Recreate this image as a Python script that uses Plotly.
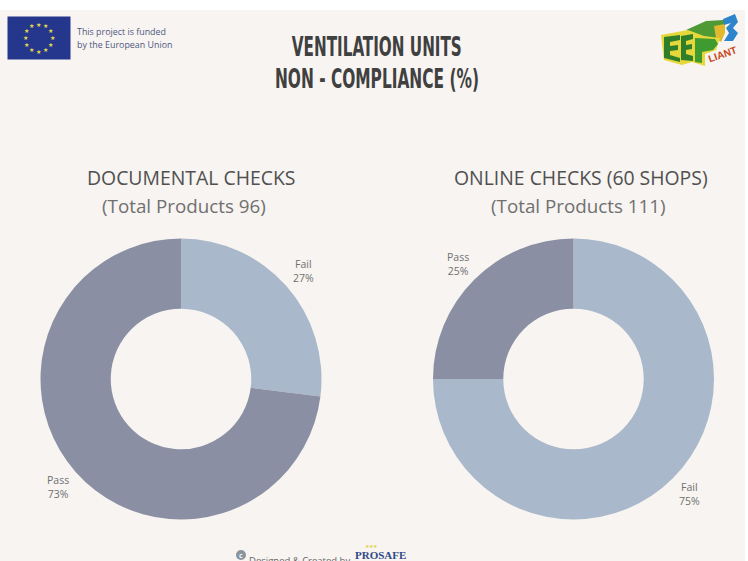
import plotly.graph_objects as go
import math

W, H = 748, 561
labels = ["Fail", "Pass"]
doc_values = [27, 73]
online_values = [75, 25]
colors = ["#a9b8cb", "#8a8fa3"]
titles = ["DOCUMENTAL CHECKS", "ONLINE CHECKS (60 SHOPS)"]
subtitles = ["(Total Products 96)", "(Total Products 111)"]
main_title = ["VENTILATION UNITS", "NON - COMPLIANCE (%)"]

def px(x): return x / W
def py(y): return 1 - y / H

def dom(cx, cy, r):
    return dict(x=[px(cx - r), px(cx + r)], y=[py(cy + r), py(cy - r)])

fig = go.Figure()
R = 140.5
for vals, cx, name in [(doc_values, 181, "Documental"), (online_values, 573.5, "Online")]:
    fig.add_trace(go.Pie(labels=labels, values=vals, name=name, hole=0.5, sort=False,
                         direction="clockwise", rotation=0, textinfo="none",
                         marker=dict(colors=colors, line=dict(width=0)),
                         domain=dom(cx, 379, R), showlegend=False, hoverinfo="label+percent"))

ann = []
def T(x, y, text, size, color, font="Open Sans", anchor="center", weight=None, **kw):
    f = dict(family=font, size=size, color=color)
    if weight:
        f["weight"] = weight
    ann.append(dict(x=px(x), y=py(y), xref="paper", yref="paper", text=text, showarrow=False,
                    xanchor=anchor, yanchor="middle", align=kw.pop("align", "center"),
                    font=f, **kw))

TITLE_FONT = "DejaVu Sans Condensed"
T(377, 47, main_title[0], 26, "#404040", TITLE_FONT, weight=700)
T(377, 79, main_title[1], 26, "#404040", TITLE_FONT, weight=700)
T(190.5, 178, titles[0], 19.4, "#505050")
T(581, 178, titles[1], 19.4, "#505050")
T(183.5, 205.5, subtitles[0], 18.8, "#707070")
T(578.5, 205.5, subtitles[1], 18.8, "#707070")

LBL = "#707070"
T(303.5, 270.5, "%s<br>%d%%" % (labels[0], doc_values[0]), 10.5, LBL)
T(58, 487, "%s<br>%d%%" % (labels[1], doc_values[1]), 10.5, LBL)
T(689, 494, "%s<br>%d%%" % (labels[0], online_values[0]), 10.5, LBL)
T(458, 263.5, "%s<br>%d%%" % (labels[1], online_values[1]), 10.5, LBL)

T(74.5, 31.5, "This project is funded", 8.9, "#50587f", anchor="left")
T(74.5, 44.5, "by the European Union", 8.9, "#50587f", anchor="left")

for i in range(12):
    a = math.radians(i * 30)
    T(38.5 + 13.5 * math.sin(a), 38 - 13.5 * math.cos(a), "★", 6, "#e5dc4a")

T(299, 560, "Designed &amp; Created by", 9.5, "#666666")
T(380, 555, "<b>PROSAFE</b>", 11, "#2f4a86", "Liberation Serif")
T(371, 546, "★★★", 5, "#e0d44a")
T(241, 555, "<b>c</b>", 7, "#f7f4f1", "Open Sans")

T(722, 55, "<b>LIANT</b>", 10, "#c9461c", "Liberation Sans", textangle=-19)

def poly(points, color):
    path = "M " + " L ".join("%.5f,%.5f" % (px(x), py(y)) for x, y in points) + " Z"
    return dict(type="path", xref="paper", yref="paper", path=path, fillcolor=color,
                line=dict(width=0), layer="below")

shapes = [
    dict(type="rect", xref="paper", yref="paper", x0=px(0), x1=px(745), y0=py(561), y1=py(10),
         fillcolor="#f7f4f1", line=dict(width=0), layer="below"),
    dict(type="rect", xref="paper", yref="paper", x0=px(7.5), x1=px(70.5), y0=py(59.5), y1=py(16.5),
         fillcolor="#25378c", line=dict(width=0), layer="below"),
    dict(type="circle", xref="paper", yref="paper", x0=px(236), x1=px(246), y0=py(560), y1=py(550),
         fillcolor="#8a94a0", line=dict(width=0), layer="below"),
    # logo
    poly([(686, 30), (706, 21), (724, 20), (725, 30), (721, 41), (700, 36)], "#4f9a35"),
    poly([(714, 26), (725, 24), (725, 33), (721, 42), (716, 38)], "#e0b92e"),
    poly([(661, 35), (688, 30), (704, 36), (720, 38), (716, 50), (705, 54), (705, 66), (692, 62), (682, 65), (664, 60)], "#e6d83a"),
    poly([(664, 37), (680, 35), (680, 40), (670, 42), (670, 46), (678, 45), (678, 50), (670, 51), (670, 55), (680, 58), (680, 62), (664, 58)], "#2f7f2a"),
    poly([(681, 36), (693, 34), (693, 39), (686, 41), (686, 45), (692, 44), (692, 49), (686, 50), (686, 54), (693, 56), (693, 61), (681, 60)], "#2f7f2a"),
    poly([(695, 38), (715, 39), (718, 44), (713, 50), (702, 52), (702, 63), (695, 62)], "#3f9a2f"),
    poly([(723, 19), (735, 14), (738, 22), (733, 28), (738, 33), (733, 41), (724, 41), (729, 33), (726, 28), (731, 23), (724, 25)], "#2d86cc"),
]

fig.update_layout(width=W, height=H, margin=dict(l=0, r=0, t=0, b=0),
                  paper_bgcolor="white", plot_bgcolor="white",
                  annotations=ann, shapes=shapes, showlegend=False)

post = """
document.body.style.margin='0';document.documentElement.style.overflow='hidden';
var gd=document.getElementById('{plot_id}');
var fit=function(){
 gd.querySelectorAll('.annotation-text').forEach(function(t){
  if(t.textContent==='VENTILATION UNITS'){t.setAttribute('textLength','170');t.setAttribute('lengthAdjust','spacingAndGlyphs');}
  if(t.textContent==='NON - COMPLIANCE (%)'){t.setAttribute('textLength','204');t.setAttribute('lengthAdjust','spacingAndGlyphs');}
 });
};
fit();
"""
fig.write_html("out.html", config={"displayModeBar": False}, post_script=post)
